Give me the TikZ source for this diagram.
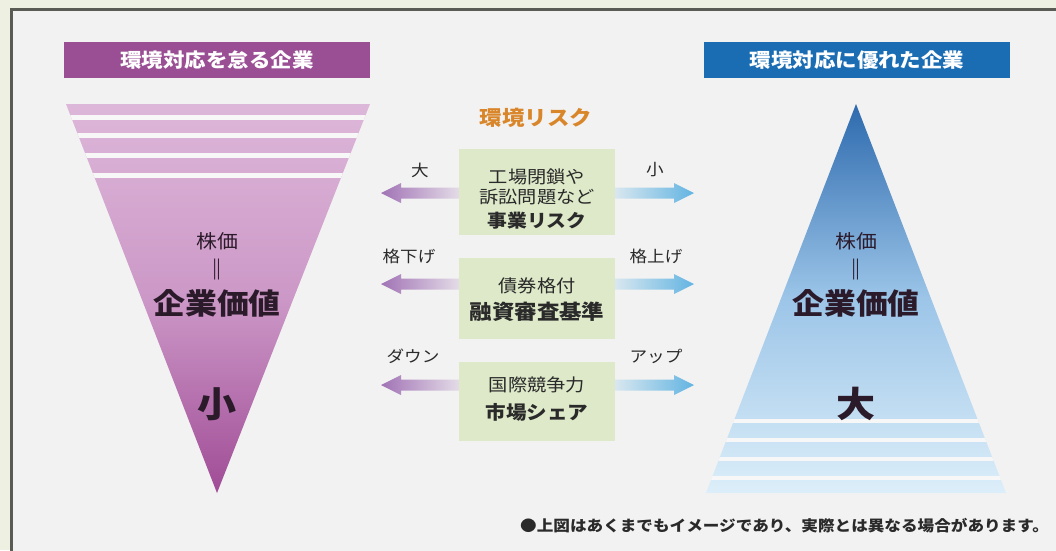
\documentclass[tikz,border=0pt]{standalone}
\usepackage{fontspec}
\setmainfont{Noto Sans CJK JP}[FakeStretch=1.1]
\usetikzlibrary{calc}
\definecolor{outerbg}{HTML}{EEF1E1}
\definecolor{innerbg}{HTML}{F2F2F2}
\definecolor{framec}{HTML}{5A5B55}
\definecolor{hdrP}{HTML}{9A4E94}
\definecolor{hdrB}{HTML}{1B6DB3}
\definecolor{pTop}{HTML}{DDB7D9}
\definecolor{pMid}{HTML}{CC98C7}
\definecolor{pBot}{HTML}{A04C96}
\definecolor{bTop}{HTML}{2D6AAE}
\definecolor{bMid}{HTML}{9CC5E8}
\definecolor{bBot}{HTML}{DCEEF9}
\definecolor{boxG}{HTML}{DDE9C8}
\definecolor{riskO}{HTML}{D9862A}
\definecolor{arrP}{HTML}{A173B5}
\definecolor{arrB}{HTML}{62B4E2}
\definecolor{txt}{HTML}{2A2A2A}
\definecolor{txtD}{HTML}{2B1A2A}
\newcommand\fs[2]{\fontsize{#1}{#2}\selectfont}
% #1 tip, #2 start (on box edge), #3 direction sign, #4 shading options
\newcommand\hArrow[4]{%
  \shade[#4] (#1) -- ($(#1)+(#3*20,-10)$) -- ($(#1)+(#3*20,-5.5)$)
    -- ($(#2)+(0,-5.5)$) -- ($(#2)+(0,5.5)$) -- ($(#1)+(#3*20,5.5)$)
    -- ($(#1)+(#3*20,10)$) -- cycle;}
\begin{document}
\begin{tikzpicture}[x=1pt,y=-1pt,
  hdr/.style={minimum width=306pt, minimum height=36pt, inner sep=0pt,
    text=white, font=\fs{19.5}{23}\bfseries},
  gbox/.style={fill=boxG, minimum width=156pt, inner sep=0pt},
  btxt/.style={text=txt, font=\fs{17.5}{21}, inner sep=0pt},
  bbold/.style={text=txt, font=\fs{18}{22}\bfseries, inner sep=0pt},
  lbl/.style={text=txt, font=\fs{16}{19}, inner sep=0pt},
  kabu/.style={text=txtD, font=\fs{19}{22}, inner sep=0pt},
  kigyo/.style={text=txtD, font=\fs{29}{34}\bfseries, inner sep=0pt},
  big/.style={text=txtD, font=\fs{35.5}{40}\bfseries, inner sep=0pt},
  gap/.style={fill=innerbg!60!white}
]
\useasboundingbox (0,0) rectangle (1056,550);
% background and frame
\fill[outerbg] (0,0) rectangle (1056,550);
\fill[innerbg] (11,9) rectangle (1070,560);
\draw[framec, line width=3pt] (11.5,560) -- (11.5,9.5) -- (1070,9.5);

% headers
\node[hdr, fill=hdrP] (hL) at (217,60) {環境対応を怠る企業};
\node[hdr, fill=hdrB] (hR) at (857,60) {環境対応に優れた企業};

% left inverted triangle
\coordinate (L1) at (66,104);
\coordinate (L2) at (370,104);
\coordinate (L3) at (217,493);
\shade[top color=pTop, bottom color=pBot, middle color=pMid] (L1) -- (L2) -- (L3) -- cycle;
\begin{scope}
  \clip (L1) -- (L2) -- (L3) -- cycle;
  \foreach \y in {117,135.5,155,175} {
    \fill[gap] (50,\y-2.5) rectangle (390,\y+2.5);
  }
\end{scope}

% right triangle
\coordinate (R1) at (856,104);
\coordinate (R2) at (1006,493);
\coordinate (R3) at (706,493);
\shade[top color=bTop, bottom color=bBot, middle color=bMid] (R1) -- (R2) -- (R3) -- cycle;
\begin{scope}
  \clip (R1) -- (R2) -- (R3) -- cycle;
  \foreach \y in {421,440,459,478} {
    \fill[gap] (690,\y-2) rectangle (1020,\y+2);
  }
\end{scope}

% triangle texts
\node[kabu] (kL) at (217,241) {株価};
\node[kabu, font=\fs{21}{24}\bfseries] (eqL) at (217,270) {‖};
\node[kigyo] (vL) at (217,303) {企業価値};
\node[big] (sL) at (217,404) {小};
\node[kabu] (kR) at (856,241) {株価};
\node[kabu, font=\fs{21}{24}\bfseries] (eqR) at (856,270) {‖};
\node[kigyo] (vR) at (856,303) {企業価値};
\node[big] (sR) at (856,404) {大};

% middle title
\node[text=riskO, font=\fs{20.4}{25}\bfseries, inner sep=0pt] (risk) at (536,118) {環境リスク};

% green boxes
\node[gbox, minimum height=86pt] (b1) at (537,192) {};
\node[gbox, minimum height=81pt] (b2) at (537,298.5) {};
\node[gbox, minimum height=79pt] (b3) at (537,401.5) {};

\node[btxt] (t1a) at (537,177) {工場閉鎖や};
\node[btxt] (t1b) at (537,197) {訴訟問題など};
\node[bbold] (t1c) at (537,221) {事業リスク};
\node[btxt] (t2a) at (537,286) {債券格付};
\node[bbold, font=\fs{20.4}{24}\bfseries] (t2b) at (537,312) {融資審査基準};
\node[btxt] (t3a) at (537,385) {国際競争力};
\node[bbold, font=\fs{18.7}{22}\bfseries] (t3b) at (537,412) {市場シェア};

% arrows
\coordinate (tl1) at (381,193);
\coordinate (tl2) at (381,284);
\coordinate (tl3) at (381,385);
\coordinate (tr1) at (694,193);
\coordinate (tr2) at (694,284);
\coordinate (tr3) at (694,385);
\coordinate (sl1) at (b1.west |- tl1);
\coordinate (sl2) at (b2.west |- tl2);
\coordinate (sl3) at (b3.west |- tl3);
\coordinate (sr1) at (b1.east |- tr1);
\coordinate (sr2) at (b2.east |- tr2);
\coordinate (sr3) at (b3.east |- tr3);
\foreach \i in {1,2,3} {
  \hArrow{tl\i}{sl\i}{1}{left color=arrP, right color=arrP!18!innerbg}
  \hArrow{tr\i}{sr\i}{-1}{left color=arrB!18!innerbg, right color=arrB}
}

% arrow labels
\node[lbl] (a1l) at (420,170) {大};
\node[lbl] (a1r) at (655,170) {小};
\node[lbl] (a2l) at (409,256) {格下げ};
\node[lbl] (a2r) at (656,256) {格上げ};
\node[lbl] (a3l) at (413,356) {ダウン};
\node[lbl] (a3r) at (656,356) {アップ};

% footnote
\node[anchor=west, text=txt, font=\fs{15.1}{18}\bfseries, inner sep=0pt] (note) at (520,526)
  {●上図はあくまでもイメージであり、実際とは異なる場合があります。};
\end{tikzpicture}
\end{document}
